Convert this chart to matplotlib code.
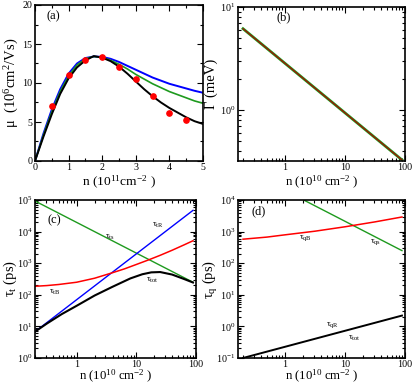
import numpy as np
import matplotlib
matplotlib.use("Agg")
import matplotlib.pyplot as plt
from matplotlib.ticker import FixedLocator, FuncFormatter, LogLocator, MultipleLocator, NullFormatter

plt.rcParams['font.family'] = ['Liberation Serif', 'DejaVu Serif']
plt.rcParams['mathtext.fontset'] = 'custom'
plt.rcParams['mathtext.rm'] = 'Liberation Serif'
plt.rcParams['mathtext.it'] = 'Liberation Serif:italic'
plt.rcParams['mathtext.default'] = 'regular'

# ---------------- data ----------------
# (a) mobility vs density (10^11 cm^-2)
n_a = [0, 0.25, 0.5, 0.75, 1.0, 1.25, 1.5, 1.75, 2.0, 2.25, 2.5, 2.75, 3.0, 3.25,
       3.5, 3.75, 4.0, 4.25, 4.5, 4.75, 5.0]
mu_black = [0, 3.1, 6.0, 8.6, 10.6, 12.0, 12.9, 13.45, 13.25, 12.8, 12.1, 11.2, 10.2,
            9.2, 8.3, 7.5, 6.8, 6.2, 5.6, 5.1, 4.75]
mu_green = [0, 3.3, 6.3, 8.9, 10.9, 12.3, 13.1, 13.4, 13.3, 12.9, 12.4, 11.8, 11.1,
            10.5, 9.9, 9.4, 8.9, 8.5, 8.1, 7.7, 7.4]
mu_blue = [0, 3.5, 6.6, 9.2, 11.2, 12.5, 13.2, 13.4, 13.35, 13.1, 12.7, 12.2, 11.7,
           11.2, 10.7, 10.3, 9.9, 9.6, 9.3, 9.0, 8.75]
n_exp = [0.5, 1.0, 1.5, 2.0, 2.5, 3.0, 3.5, 4.0, 4.5]
mu_exp = [7.0, 11.0, 13.0, 13.3, 12.0, 10.5, 8.3, 6.2, 5.2]

# (b) broadening vs density (10^10 cm^-2)
n_b = [0.2, 89]
gamma_b = [6.15, 0.326]

# (c) transport times
n_ts = [0.2, 89]
tau_ts = [93000, 250]
n_tR = [0.2, 89]
tau_tR = [6.8, 47000]
n_tB = [0.2, 0.316, 0.5, 1.0, 2.0, 4.0, 6.31, 10.0, 15.8, 25.1, 39.8, 63.1, 89.0]
tau_tB = [186, 196, 212, 250, 335, 501, 661, 912, 1259, 1778, 2570, 3802, 5129]
n_tot = [0.2, 0.316, 0.562, 1.0, 2.0, 4.0, 7.94, 12.6, 17.8, 25.1, 39.8, 63.1, 89.0]
tau_tot = [6.8, 12.3, 24.5, 45.0, 95, 180, 330, 447, 513, 525, 437, 316, 245]

# (d) quantum times
n_qR = [0.2, 89]
tau_qR = [0.1, 2.2]
n_qB = [0.2, 0.5, 1.0, 3.16, 10.0, 31.6, 89.0]
tau_qB = [575, 670, 790, 1030, 1420, 2030, 2900]
n_qs = [2.05, 89]
tau_qs = [10000, 250]

W, H = 415, 384
fig = plt.figure(figsize=(W / 100, H / 100), dpi=100)

def box(l, r, t, b):
    return [l / W, 1 - b / H, (r - l) / W, (b - t) / H]

axa = fig.add_axes(box(35, 203, 5, 161))
axb = fig.add_axes(box(238, 405, 7, 161))
axc = fig.add_axes(box(35, 196, 200, 358))
axd = fig.add_axes(box(238, 405, 200, 358))

tick_fs = 7.2
lab_fs = 9.5
xlab_fs = 9.2
GREEN = '#1e9a1e'

def style(ax):
    ax.tick_params(which='both', direction='in', top=True, right=True,
                   labelsize=tick_fs, width=0.8)
    ax.tick_params(axis='x', which='both', pad=1.2)
    ax.tick_params(axis='y', which='both', pad=2)
    ax.tick_params(which='major', length=4)
    ax.tick_params(which='minor', length=2)
    for s in ax.spines.values():
        s.set_linewidth(1.2)

def place_labels(ax, xl_px, yl_px, l, b):
    # put axis labels at given figure pixel positions
    bb = ax.get_position()
    w = bb.width * W
    h = bb.height * H
    ax.yaxis.set_label_coords((yl_px - l) / w, 0.5)
    ax.xaxis.set_label_coords(0.5, -(xl_px - b) / h)
    ax.xaxis.label.set_va('center')
    ax.yaxis.label.set_va('center')

# ---- (a)
axa.plot(n_a, mu_blue, color='blue', lw=1.4)
axa.plot(n_a, mu_green, color=GREEN, lw=1.2)
axa.plot(n_a, mu_black, color='black', lw=1.4)
axa.plot(n_exp, mu_exp, 'o', color='red', ms=3.8, mec='red')
axa.set_xlim(0, 5)
axa.set_ylim(0, 20)
axa.xaxis.set_major_locator(MultipleLocator(1))
axa.xaxis.set_minor_locator(MultipleLocator(0.5))
axa.yaxis.set_major_locator(MultipleLocator(5))
axa.yaxis.set_minor_locator(MultipleLocator(2.5))
style(axa)
axa.set_xlabel('n (10$^{11}$cm$^{-2}$ )', fontsize=xlab_fs + 0.5)
axa.set_ylabel('μ  (10$^{6}$cm$^{2}$/Vs)', fontsize=lab_fs + 1)
place_labels(axa, 182, 12, 35, 161)
axa.text(0.07, 0.93, '(a)', transform=axa.transAxes, fontsize=9, va='center')

def logx(ax, xmin):
    ax.set_xscale('log')
    ax.set_xlim(xmin, 100)
    ax.xaxis.set_major_locator(FixedLocator([1, 10, 100]))
    ax.xaxis.set_major_formatter(FuncFormatter(lambda v, p: '%g' % v))
    ax.xaxis.set_minor_locator(LogLocator(base=10, subs=np.arange(2, 10)))
    ax.xaxis.set_minor_formatter(NullFormatter())

def logy(ax, lo, hi):
    ax.set_yscale('log')
    ax.set_ylim(lo, hi)
    ax.yaxis.set_major_locator(LogLocator(base=10, numticks=20))
    ax.yaxis.set_major_formatter(FuncFormatter(lambda v, p: '10$^{%d}$' % round(np.log10(v))))
    ax.yaxis.set_minor_locator(LogLocator(base=10, subs=np.arange(2, 10), numticks=20))
    ax.yaxis.set_minor_formatter(NullFormatter())

# ---- (b)
axb.plot(n_b, gamma_b, color=GREEN, lw=2.0)
axb.plot(n_b, gamma_b, color='#b00000', lw=0.8)
logx(axb, 0.165)
logy(axb, 0.318, 10)
style(axb)
axb.set_xlabel('n (10$^{10}$ cm$^{-2}$ )', fontsize=xlab_fs)
axb.set_ylabel('Γ (meV)', fontsize=lab_fs + 1)
place_labels(axb, 182, 211, 238, 161)
axb.text(0.23, 0.93, '(b)', transform=axb.transAxes, fontsize=9, va='center')

# ---- (c)
axc.plot(n_ts, tau_ts, color=GREEN, lw=1.0)
axc.plot(n_tR, tau_tR, color='blue', lw=1.0)
axc.plot(n_tB, tau_tB, color='red', lw=1.1)
axc.plot(n_tot, tau_tot, color='black', lw=1.5)
logx(axc, 0.2)
logy(axc, 1, 1e5)
style(axc)
axc.set_xlabel('n (10$^{10}$ cm$^{-2}$ )', fontsize=xlab_fs)
axc.set_ylabel('τ$_{\\rm t}$ (ps)', fontsize=lab_fs + 1)
place_labels(axc, 376, 10, 35, 358)
axc.text(0.08, 0.87, '(c)', transform=axc.transAxes, fontsize=9, va='center')
lab = 6.5
for txt, x, y in [('τ$_{\\rm ts}$', 110, 237), ('τ$_{\\rm tR}$', 158, 225),
                  ('τ$_{\\rm tB}$', 55, 292), ('τ$_{\\rm tot}$', 152, 280)]:
    axc.annotate(txt, xy=(x / W, 1 - y / H), xycoords='figure fraction',
                 fontsize=lab, ha='center', va='center')

# ---- (d)
axd.plot(n_qs, tau_qs, color=GREEN, lw=1.0)
axd.plot(n_qB, tau_qB, color='red', lw=1.1)
axd.plot(n_qR, tau_qR, color='black', lw=1.4)
logx(axd, 0.165)
logy(axd, 0.1, 1e4)
style(axd)
axd.set_xlabel('n (10$^{10}$ cm$^{-2}$ )', fontsize=xlab_fs)
axd.set_ylabel('τ$_{\\rm q}$ (ps)', fontsize=lab_fs + 1)
place_labels(axd, 376, 210, 238, 358)
axd.text(0.08, 0.93, '(d)', transform=axd.transAxes, fontsize=9, va='center')
for txt, x, y in [('τ$_{\\rm qB}$', 305, 238), ('τ$_{\\rm qs}$', 376, 242),
                  ('τ$_{\\rm qR}$', 333, 325), ('τ$_{\\rm tot}$', 354, 338)]:
    axd.annotate(txt, xy=(x / W, 1 - y / H), xycoords='figure fraction',
                 fontsize=lab, ha='center', va='center')

fig.savefig('out.png', dpi=100)
